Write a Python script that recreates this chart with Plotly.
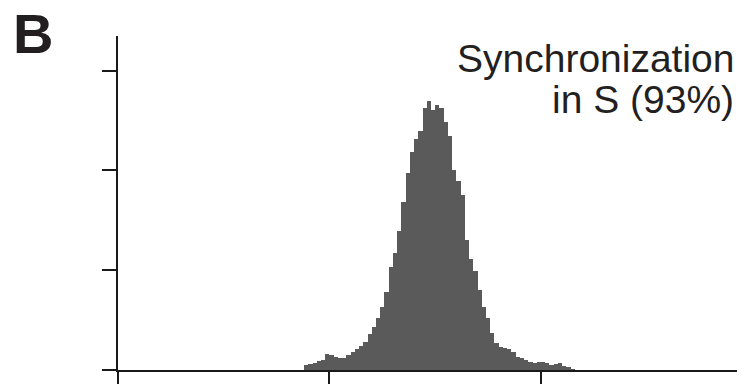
import plotly.graph_objects as go

# DNA content channel (bin centers) and event counts
bin_centers = [89 + 2 * i for i in range(64)]
counts = [5, 6, 7.5, 9, 10, 16, 15, 13.5, 12, 12, 15, 18, 21, 24, 28.5, 36,
          43, 52, 63, 78, 103, 117, 139, 168, 197, 218, 231, 240, 263, 270,
          261, 266, 263, 249, 234, 200, 189, 175, 130, 111, 99, 80, 63, 52,
          37, 27, 23, 22, 21, 18, 13, 12, 10, 8, 7, 8.5, 8.5, 7, 5, 6, 7, 4,
          3, 0.5]
x_ticks = [0, 100, 200]
y_ticks = [0, 100, 200, 300]
panel_label = "B"
title_lines = ["Synchronization", "in S (93%)"]

fig = go.Figure()
fig.add_trace(go.Bar(x=bin_centers, y=counts, width=2,
                     marker=dict(color="#5a5a5a", line=dict(width=0)),
                     hoverinfo="skip"))

axis_color = "#1a1a1a"
fig.update_layout(
    width=742, height=387,
    margin=dict(l=118, r=5, t=36, b=12),
    paper_bgcolor="white", plot_bgcolor="white",
    showlegend=False, bargap=0,
    xaxis=dict(range=[0, 292.7], tickvals=x_ticks, showticklabels=False,
               ticks="outside", ticklen=12, tickwidth=2, tickcolor=axis_color,
               showline=True, linewidth=2, linecolor=axis_color,
               showgrid=False, zeroline=False, fixedrange=True),
    yaxis=dict(range=[0, 334.7], tickvals=y_ticks, showticklabels=False,
               ticks="outside", ticklen=14, tickwidth=2, tickcolor=axis_color,
               showline=True, linewidth=2, linecolor=axis_color,
               showgrid=False, zeroline=False, fixedrange=True),
    annotations=[
        dict(text="<b>%s</b>" % panel_label, xref="paper", yref="paper",
             x=-0.137, y=1.006, xanchor="center", yanchor="middle",
             showarrow=False,
             font=dict(family="Liberation Sans, Arial", size=56, color="#231f20")),
        dict(text=title_lines[0], xref="paper", yref="paper",
             x=1.0, y=0.934, xanchor="right", yanchor="middle",
             showarrow=False,
             font=dict(family="Liberation Sans, Arial", size=39, color="#231f20")),
        dict(text=title_lines[1], xref="paper", yref="paper",
             x=0.998, y=0.81, xanchor="right", yanchor="middle",
             showarrow=False,
             font=dict(family="Liberation Sans, Arial", size=39, color="#231f20")),
    ],
)

fig.write_html("out.html", config={"displayModeBar": False})
